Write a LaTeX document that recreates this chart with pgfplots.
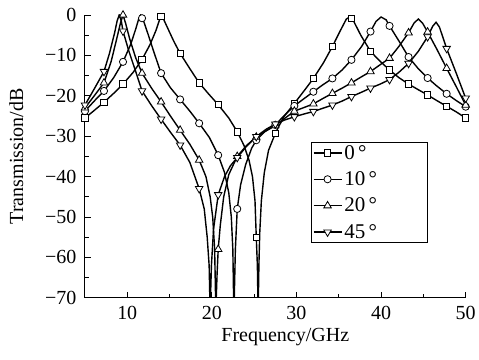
\documentclass[border=0pt]{standalone}
\usepackage{fontspec}
\setmainfont{Liberation Serif}
\usepackage{pgfplots}
\usepackage{pgfplotstable}
\pgfplotsset{compat=1.18}

\pgfplotstableread{
x y
5 -25.5
6 -23.8
7.25 -21.6
8.5 -19.2
9.5 -17.1
10.7 -14.2
11.75 -11
12.7 -7.3
13.4 -3.8
13.8 -1.3
14.05 0
14.35 -1.3
14.9 -3.8
15.5 -6.5
16.25 -9.5
17.4 -13.3
18.5 -16.8
19.6 -19.5
20.75 -22.2
22 -25.5
23 -28.9
23.8 -32.3
24.4 -36
24.8 -40
25.1 -46
25.25 -55
25.38 -62
25.44 -70
25.5 -70
25.56 -62
25.66 -54
25.85 -46
26.2 -39
26.7 -33.5
27.5 -29.3
28.5 -25.2
29.75 -21.9
31 -18.5
32 -15.7
33.2 -11.8
34.25 -7.8
35.2 -3.8
35.9 -1
36.3 -0.5
36.7 -1.3
37.6 -5
38.75 -9
39.9 -11.5
41 -13.6
42.1 -15.5
43.25 -17.1
44.4 -18.5
45.5 -19.8
46.6 -21.2
47.75 -22.6
48.9 -24
50 -25.5
}\tzero

\pgfplotstableread{
x y
5 -23.8
6.1 -21.3
7.25 -18.8
8.4 -15.5
9.5 -11.6
10.4 -7.3
11 -3.5
11.35 -1
11.6 0
11.9 -1.3
12.5 -5
13.2 -9.5
14 -14.4
15.1 -18
16.25 -20.9
17.4 -23.8
18.5 -26.8
19.7 -30.3
20.75 -34.7
21.5 -39
22 -44
22.3 -50
22.48 -58
22.57 -70
22.65 -70
22.78 -58
23 -48
23.4 -42
24 -37
24.7 -33
25.25 -31
26.3 -28.8
27.5 -27.2
28.6 -24.8
29.75 -22.5
30.9 -20.7
32 -19
33.1 -17.3
34.25 -15.7
35.4 -13.6
36.5 -11.1
37.7 -7.8
38.75 -4.1
39.4 -1.6
40 -0.5
40.6 -1.2
41 -2.7
42.1 -6.4
43.25 -10.4
44.4 -13.3
45.5 -15.6
46.6 -17.6
47.75 -19.5
48.9 -21.2
50 -22.7
}\tten

\pgfplotstableread{
x y
5 -23
6.1 -20
7.25 -16.8
8.1 -11.5
8.8 -5.5
9.2 -2
9.5 0
9.8 -2
10.3 -6
11 -10.6
11.75 -14.4
12.9 -18.2
14 -21.5
15.1 -25
16.25 -28.5
17.4 -32
18.5 -35.9
19.3 -40
19.8 -45
20.1 -50
20.33 -58
20.44 -70
20.52 -70
20.62 -64
20.75 -58
21 -52
21.4 -45
22 -39.5
23 -35
24.1 -32.3
25.25 -30.2
26.4 -28.7
27.5 -27.4
28.6 -25.6
29.75 -23.8
30.9 -22.9
32 -22
33.1 -20.7
34.25 -19.4
35.4 -18.1
36.5 -16.8
37.6 -15.4
38.75 -14
39.9 -12.3
41 -10.7
42.1 -7.8
43.25 -4.4
43.9 -2
44.4 -1
44.9 -2
45.5 -4.2
46.6 -8.5
47.75 -13.2
48.9 -17.8
50 -22.3
}\ttwenty

\pgfplotstableread{
x y
5 -22.3
6.1 -18.3
7.25 -14
7.9 -9.5
8.5 -4.5
8.8 -1.5
9.05 0
9.3 -1.5
9.5 -4
10.2 -9
11 -14
11.75 -18.8
12.9 -22.5
14 -25.8
15.1 -29
16.25 -32.2
17.4 -36.5
18.5 -43
19.1 -48
19.45 -55
19.68 -62
19.76 -70
19.84 -70
19.95 -62
20.2 -53
20.75 -44.5
21.5 -40
22.2 -37.3
23 -35.3
24.1 -32.5
25.25 -30.1
26.4 -28.3
27.5 -27
28.6 -26
29.75 -25.2
30.9 -24.5
32 -23.9
33.1 -23.1
34.25 -22.3
35.4 -21.3
36.5 -20.2
37.6 -19.2
38.75 -18.1
39.9 -17.1
41 -16
42.1 -14.2
43.25 -12
44.4 -9
45.5 -5.4
46.1 -2.8
46.5 -1.8
46.9 -3
47.75 -8.3
48.9 -14.5
50 -20.6
}\tfortyfive

\begin{document}
\begin{tikzpicture}
\begin{axis}[
  scale only axis,
  width=381pt, height=283pt,
  xmin=5, xmax=50, ymin=-70, ymax=0,
  axis lines=left,
  axis line style={line width=1pt, -},
  xtick={10,20,30,40,50},
  minor xtick={15,25,35,45},
  ytick={-70,-60,-50,-40,-30,-20,-10,0},
  yticklabels={−70,−60,−50,−40,−30,−20,−10,0},
  minor ytick={-65,-55,-45,-35,-25,-15,-5},
  tick align=inside,
  major tick length=6pt, minor tick length=4pt,
  tick style={line width=0.8pt, black},
  /pgf/number format/assume math mode=true,
  tick label style={font=\fontsize{20}{22}\selectfont},
  yticklabel style={xshift=-5pt},
  xticklabel style={yshift=-5pt},
  label style={font=\fontsize{20}{22}\selectfont},
  xlabel={Frequency/GHz},
  ylabel={Transmission/dB},
  xlabel style={xshift=10pt, yshift=-2pt},
  ylabel style={yshift=15pt},
  legend style={at={(rel axis cs:0.595,0.552)}, anchor=north west, draw=black, line width=0.8pt,
    font=\fontsize{21}{21}\selectfont, row sep=7pt, inner sep=1pt, fill=white,
    /tikz/every even column/.append style={column sep=2pt}},
  legend cell align=left,
  legend image code/.code={\draw[#1, mark repeat=2, mark phase=2] plot coordinates {(0pt,0pt) (14pt,0pt) (28pt,0pt)};},
  every axis plot/.append style={line width=1.4pt, black},
  mark options={solid, fill=white, line width=0.8pt},
]
\addlegendimage{mark=square*, mark size=3.2pt}
\addlegendentry{\makebox[80pt][l]{0\,°}}
\addlegendimage{mark=*, mark size=3.6pt}
\addlegendentry{\makebox[80pt][l]{10\,°}}
\addlegendimage{mark=triangle*, mark size=4.3pt}
\addlegendentry{\makebox[80pt][l]{20\,°}}
\addlegendimage{mark=triangle*, mark size=4.3pt, mark options={solid, fill=white, line width=0.8pt, rotate=180}}
\addlegendentry{\makebox[80pt][l]{45\,°}}

\addplot[no marks] table {\tzero};
\addplot[no marks] table {\tten};
\addplot[no marks] table {\ttwenty};
\addplot[no marks] table {\tfortyfive};

\addplot[only marks, mark=square*, mark size=3.2pt] coordinates {
(5,-25.5) (7.25,-21.6) (9.5,-17.1) (11.75,-11) (14,-0.3) (16.25,-9.5) (18.5,-16.8)
(20.75,-22.2) (23,-28.9) (25.25,-55) (27.5,-29.3) (29.75,-21.9) (32,-15.7) (34.25,-7.8)
(36.5,-0.8) (38.75,-9) (41,-13.6) (43.25,-17.1) (45.5,-19.8) (47.75,-22.6) (50,-25.5)};
\addplot[only marks, mark=*, mark size=3.6pt] coordinates {
(5,-23.8) (7.25,-18.8) (9.5,-11.6) (11.75,-0.8) (14,-14.4) (16.25,-20.9) (18.5,-26.8)
(20.75,-34.7) (23,-48) (25.25,-31) (27.5,-27.2) (29.75,-22.5) (32,-19) (34.25,-15.7)
(36.5,-11.1) (38.75,-4.1) (41,-2.7) (43.25,-10.4) (45.5,-15.6) (47.75,-19.5) (50,-22.7)};
\addplot[only marks, mark=triangle*, mark size=4.3pt] coordinates {
(5,-23) (7.25,-16.8) (9.5,0) (11.75,-14.4) (14,-21.5) (16.25,-28.5) (18.5,-35.9)
(20.75,-58) (23,-35) (25.25,-30.2) (27.5,-27.4) (29.75,-23.8) (32,-22) (34.25,-19.4)
(36.5,-16.8) (38.75,-14) (41,-10.7) (43.25,-4.4) (45.5,-4.2) (47.75,-13.2) (50,-22.3)};
\addplot[only marks, mark=triangle*, mark size=4.3pt, mark options={solid, fill=white, line width=0.8pt, rotate=180}] coordinates {
(5,-22.3) (7.25,-14) (9.5,-4) (11.75,-18.8) (14,-25.8) (16.25,-32.2) (18.5,-43)
(20.75,-44.5) (23,-35.3) (25.25,-30.1) (27.5,-27) (29.75,-25.2) (32,-23.9) (34.25,-22.3)
(36.5,-20.2) (38.75,-18.1) (41,-16) (43.25,-12) (45.5,-5.4) (47.75,-8.3) (50,-20.6)};
\end{axis}
\path (current axis.south west) ++(-85pt,-62pt);
\path (current axis.north east) ++(13pt,15pt);
\end{tikzpicture}
\end{document}
